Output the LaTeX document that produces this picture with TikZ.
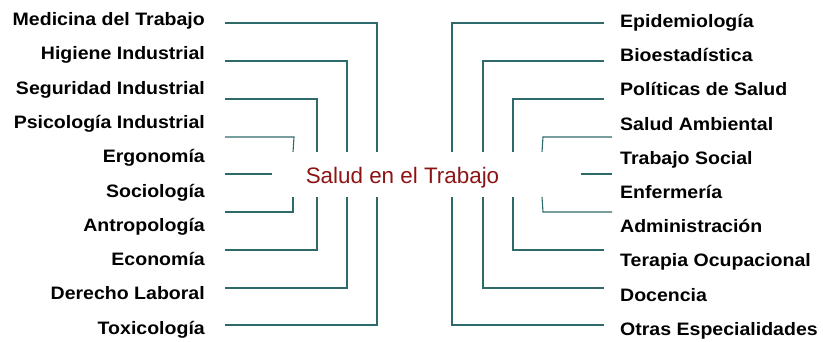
\documentclass[tikz,border=0pt]{standalone}
\usepackage{fontspec}
\setmainfont{Liberation Sans}
\newfontfamily\lblfont[FakeStretch=1.085]{Liberation Sans}
\definecolor{linec}{RGB}{47,106,106}
\definecolor{titlec}{RGB}{140,20,20}
\begin{document}
\begin{tikzpicture}[x=1pt,y=-1pt,
  lbl/.style={inner sep=0pt,font=\lblfont\bfseries\fontsize{18}{20}\selectfont,text=black},
  lleft/.style={lbl,anchor=base east},
  lright/.style={lbl,anchor=base west},
  conn/.style={draw=linec,line width=1.1pt,line join=miter}]
\useasboundingbox (0,0) rectangle (823,341);
% centre
\node[inner sep=0pt,anchor=base,text=titlec,font=\fontsize{22.4}{24}\selectfont] (c) at (402.5,183) {Salud en el Trabajo};
% left labels
\node[lleft] (l1) at (205,25.5) {Medicina del Trabajo};
\node[lleft] (l2) at (205,59.8) {Higiene Industrial};
\node[lleft] (l3) at (205,94.1) {Seguridad Industrial};
\node[lleft] (l4) at (205,128.4) {Psicología Industrial};
\node[lleft] (l5) at (205,162.7) {Ergonomía};
\node[lleft] (l6) at (205,197.0) {Sociología};
\node[lleft] (l7) at (205,231.3) {Antropología};
\node[lleft] (l8) at (205,265.6) {Economía};
\node[lleft] (l9) at (205,299.9) {Derecho Laboral};
\node[lleft] (l10) at (205,334.2) {Toxicología};
% right labels
\node[lright] (r1) at (620,27.5) {Epidemiología};
\node[lright] (r2) at (620,61.7) {Bioestadística};
\node[lright] (r3) at (620,95.9) {Políticas de Salud};
\node[lright] (r4) at (620,130.1) {Salud Ambiental};
\node[lright] (r5) at (620,164.3) {Trabajo Social};
\node[lright] (r6) at (620,198.5) {Enfermería};
\node[lright] (r7) at (620,232.7) {Administración};
\node[lright] (r8) at (620,266.9) {Terapia Ocupacional};
\node[lright] (r9) at (620,301.1) {Docencia};
\node[lright] (r10) at (620,335.3) {Otras Especialidades};
% left connector ends
\coordinate (a1) at (225,23);  \coordinate (a1t) at (377,152);
\coordinate (a1b) at (377,197); \coordinate (b1) at (225,325);
\coordinate (a2) at (225,61);  \coordinate (a2t) at (347,152);
\coordinate (a2b) at (347,197); \coordinate (b2) at (225,288);
\coordinate (a3) at (225,99);  \coordinate (a3t) at (317,152);
\coordinate (a3b) at (317,197); \coordinate (b3) at (225,250);
\coordinate (a4) at (225,137); \coordinate (a4c) at (294,137); \coordinate (a4t) at (293,152);
\coordinate (a4b) at (293,197); \coordinate (b4) at (225,212);
\coordinate (am) at (225,174); \coordinate (amc) at (272,174);
\draw[conn] (a1) -| (a1t);
\draw[conn] (a1b) |- (b1);
\draw[conn] (a2) -| (a2t);
\draw[conn] (a2b) |- (b2);
\draw[conn] (a3) -| (a3t);
\draw[conn] (a3b) |- (b3);
\draw[conn] (a4) -- (a4c) -- (a4t);
\draw[conn] (a4b) |- (b4);
\draw[conn] (am) -- (amc);
% right connector ends
\coordinate (e1) at (604,23);  \coordinate (e1t) at (452,152);
\coordinate (e1b) at (452,197); \coordinate (f1) at (604,325);
\coordinate (e2) at (604,61);  \coordinate (e2t) at (483,152);
\coordinate (e2b) at (483,197); \coordinate (f2) at (604,288);
\coordinate (e3) at (604,99);  \coordinate (e3t) at (513,152);
\coordinate (e3b) at (513,197); \coordinate (f3) at (604,250);
\coordinate (e4) at (612,137); \coordinate (e4c) at (543,137); \coordinate (e4t) at (542,152);
\coordinate (e4b) at (542,197); \coordinate (e4d) at (543,212); \coordinate (f4) at (612,212);
\coordinate (em) at (612,174); \coordinate (emc) at (581,174);
\draw[conn] (e1) -| (e1t);
\draw[conn] (e1b) |- (f1);
\draw[conn] (e2) -| (e2t);
\draw[conn] (e2b) |- (f2);
\draw[conn] (e3) -| (e3t);
\draw[conn] (e3b) |- (f3);
\draw[conn] (e4) -- (e4c) -- (e4t);
\draw[conn] (e4b) -- (e4d) -- (f4);
\draw[conn] (em) -- (emc);
\end{tikzpicture}
\end{document}
